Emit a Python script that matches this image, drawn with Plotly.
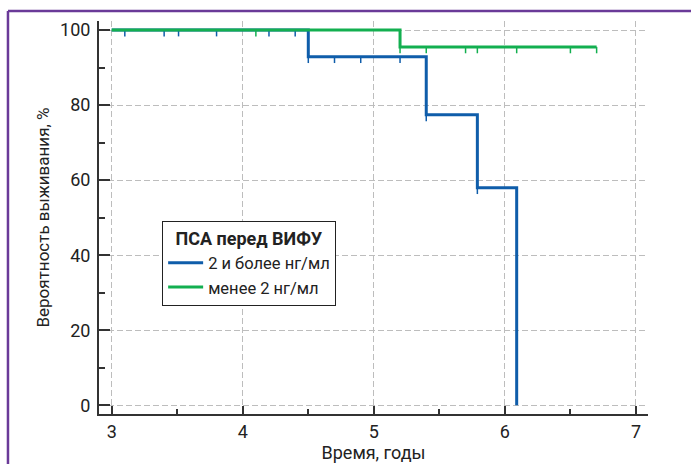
import plotly.graph_objects as go

# ---- data ----
blue_name = "2 и более нг/мл"
green_name = "менее 2 нг/мл"
legend_title = "ПСА перед ВИФУ"

# Kaplan–Meier steps (time, survival %) – blue group
blue_times = [3.0, 4.5, 5.4, 5.79, 6.09]
blue_surv = [100.0, 92.9, 77.4, 58.0, 0.0]
blue_end = 6.09
# censor marks – blue group
blue_censor_t = [3.1, 3.4, 3.51, 3.8, 4.2, 4.4, 4.5, 4.7, 4.9, 5.2, 5.4, 5.79]

# green group
green_times = [3.0, 5.2]
green_surv = [100.0, 95.5]
green_end = 6.7
green_censor_t = [4.1, 5.2, 5.4, 5.7, 5.79, 6.09, 6.5, 6.7]

x_ticks = [3, 4, 5, 6, 7]
y_ticks = [0, 20, 40, 60, 80, 100]

BLUE = "#0F5DAA"
GREEN = "#13AF50"
FONT = "Liberation Sans Narrow, Arial Narrow, Roboto, sans-serif"


def step_xy(times, surv, end):
    xs, ys = [], []
    for i, (t, s) in enumerate(zip(times, surv)):
        if i > 0:
            xs.append(t)
            ys.append(surv[i - 1])
        xs.append(t)
        ys.append(s)
    if end > xs[-1]:
        xs.append(end)
        ys.append(surv[-1])
    return xs, ys


def level_at(times, surv, t):
    lvl = surv[0]
    for tt, s in zip(times, surv):
        if tt <= t + 1e-9:
            lvl = s
    return lvl


def censor_xy(times, surv, ct, length=1.7):
    xs, ys = [], []
    for t in ct:
        lv = level_at(times, surv, t)
        xs += [t, t, None]
        ys += [lv, lv - length, None]
    return xs, ys


fig = go.Figure()

bx, by = step_xy(blue_times, blue_surv, blue_end)
gx, gy = step_xy(green_times, green_surv, green_end)
bcx, bcy = censor_xy(blue_times, blue_surv, blue_censor_t)
gcx, gcy = censor_xy(green_times, green_surv, green_censor_t)

fig.add_trace(go.Scatter(x=bcx, y=bcy, mode="lines", line=dict(color=BLUE, width=1.5),
                         showlegend=False, hoverinfo="skip"))
fig.add_trace(go.Scatter(x=bx, y=by, mode="lines", name=blue_name,
                         line=dict(color=BLUE, width=3)))
fig.add_trace(go.Scatter(x=gcx, y=gcy, mode="lines", line=dict(color=GREEN, width=1.5),
                         showlegend=False, hoverinfo="skip"))
fig.add_trace(go.Scatter(x=gx, y=gy, mode="lines", name=green_name,
                         line=dict(color=GREEN, width=3)))

axis_common = dict(
    showline=True, linecolor="#333333", linewidth=2,
    showgrid=True, gridcolor="#BDBDBD", gridwidth=1.3, griddash="6px,3px",
    zeroline=False, ticks="inside", tickcolor="#333333", tickwidth=2,
    tickfont=dict(family=FONT, size=18, color="#222222"),
)

fig.update_xaxes(
    **axis_common,
    range=[2.903, 7.092], tickvals=x_ticks, ticklen=8,
    minor=dict(ticks="inside", dtick=0.5, tick0=3, ticklen=5, tickwidth=1.5,
               tickcolor="#333333", showgrid=False),
    title=dict(text="Время, годы", font=dict(family=FONT, size=18, color="#222222"),
               standoff=6),
)
fig.update_yaxes(
    **axis_common,
    range=[-2.3, 102.4], tickvals=y_ticks, ticklen=11,
    minor=dict(ticks="inside", dtick=10, tick0=0, ticklen=6, tickwidth=1.5,
               tickcolor="#333333", showgrid=False),
    ticklabelstandoff=3,
    title=dict(text="Вероятность выживания, %", font=dict(family=FONT, size=17, color="#222222"),
               standoff=6),
)

fig.update_layout(
    width=691, height=464,
    margin=dict(l=99, r=43, t=21, b=50, autoexpand=False),
    paper_bgcolor="white", plot_bgcolor="white",
    font=dict(family=FONT, size=16, color="#222222"),
    legend=dict(
        x=0.115, y=0.491, xanchor="left", yanchor="top",
        bgcolor="white", bordercolor="#222222", borderwidth=1,
        title=dict(text="<b>" + legend_title + "</b>", side="top center",
                   font=dict(family=FONT, size=18, color="#222222")),
        font=dict(family=FONT, size=16.5, color="#222222"),
        itemwidth=35, tracegroupgap=0,
    ),
    shapes=[
        dict(type="line", xref="paper", yref="paper", x0=-0.1658, x1=1.2, y0=1.0254, y1=1.0254,
             line=dict(color="#6A3A98", width=2.5)),
        dict(type="line", xref="paper", yref="paper", x0=-0.1658, x1=-0.1658, y0=1.0254, y1=-0.2,
             line=dict(color="#6A3A98", width=2.5)),
    ],
)

fig.write_html("out.html")
